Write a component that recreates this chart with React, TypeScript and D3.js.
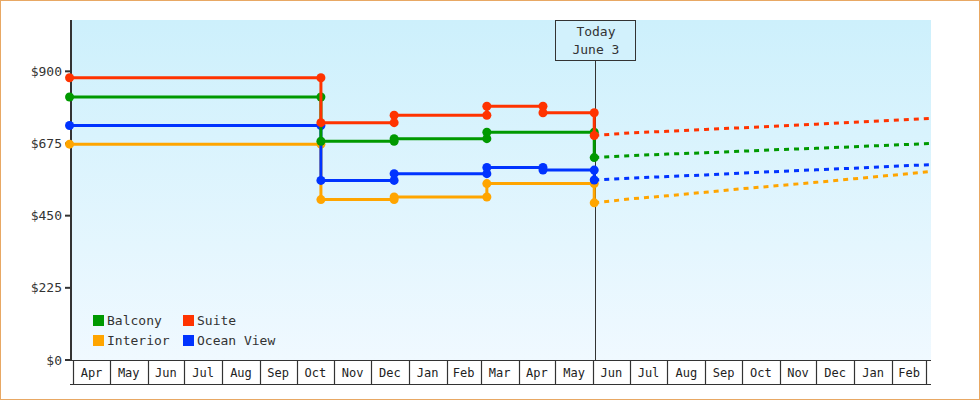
import React from "react";
import * as d3 from "d3";

const W = 980;
const H = 400;

// Step-change dates and prices (historical)
const stepDates = ["2013-03-29", "2013-10-21", "2013-12-20", "2014-03-06", "2014-04-21", "2014-06-02"];
const balconyHist = [820, 682, 690, 710, 710, 631];
const suiteHist = [880, 740, 763, 791, 771, 700];
const interiorHist = [673, 500, 508, 550, 550, 490];
const oceanHist = [731, 560, 581, 600, 592, 561];

// Forecast
const forecastDates = ["2014-06-02", "2014-07-01", "2014-08-01", "2014-09-01", "2014-10-01", "2014-11-01", "2014-12-01", "2015-01-01", "2015-02-01", "2015-03-05"];
const balconyFc = [631, 637, 642, 646, 651, 656, 660, 665, 670, 675];
const suiteFc = [700, 708, 713, 719, 724, 730, 735, 741, 747, 753];
const interiorFc = [490, 502, 512, 523, 534, 544, 554, 565, 576, 588];
const oceanFc = [561, 567, 572, 577, 583, 588, 593, 598, 604, 609];

const seriesNames = ["Balcony", "Suite", "Interior", "Ocean View"];
const seriesColors = ["#009900", "#ff3300", "#ffa500", "#0033ff"];
const yTicks = [0, 225, 450, 675, 900];
const todayDate = "2014-06-03";
const todayLabel = ["Today", "June 3"];

const FONT = "'DejaVu Sans Mono', monospace";

const parse = (s: string) => {
  const [y, m, d] = s.split("-").map(Number);
  return new Date(Date.UTC(y, m - 1, d));
};

export default function App() {
  const left = 72, right = 931, top = 20, bottom = 360;
  const x = d3.scaleUtc().domain([parse("2013-03-31"), parse("2015-03-05")]).range([left, right]);
  const y = d3.scaleLinear().domain([0, 1060]).range([bottom, top]);

  const hist = [balconyHist, suiteHist, interiorHist, oceanHist];
  const fc = [balconyFc, suiteFc, interiorFc, oceanFc];
  const drawOrder = [2, 3, 0, 1];

  const stepLine = d3.line<[Date, number]>().x(d => x(d[0])).y(d => y(d[1])).curve(d3.curveStepAfter);
  const fcLine = d3.line<[Date, number]>().x(d => x(d[0])).y(d => y(d[1]));

  const monthEnd = parse("2015-03-01");
  const months = d3.utcMonth.range(parse("2013-04-01"), monthEnd);
  const fmt = d3.utcFormat("%b");
  const tx = x(parse(todayDate));

  return (
    <svg width={W} height={H} style={{ position: "absolute", left: 0, top: 0, background: "#fff" }}>
      <defs>
        <linearGradient id="bg" x1="0" y1="0" x2="0" y2="1">
          <stop offset="0" stopColor="#cdf0fc" />
          <stop offset="1" stopColor="#f0f9ff" />
        </linearGradient>
      </defs>
      <rect x={0.5} y={0.5} width={W - 1} height={H - 1} fill="#fff" stroke="#e8a864" strokeWidth={1} />
      <rect x={left} y={top} width={right - left} height={bottom - top} fill="url(#bg)" />

      {/* y axis */}
      <line x1={71} x2={71} y1={top} y2={bottom} stroke="#333" strokeWidth={2} />
      {yTicks.map(t => (
        <g key={t}>
          <line x1={65} x2={71} y1={y(t)} y2={y(t)} stroke="#333" strokeWidth={2} />
          <text x={62} y={y(t)} dy="0.35em" textAnchor="end" fontFamily={FONT} fontSize={13} fill="#333">
            {"$" + t}
          </text>
        </g>
      ))}

      {/* x axis month boxes */}
      <line x1={70} x2={right} y1={360.5} y2={360.5} stroke="#333" strokeWidth={1.2} />
      <line x1={70} x2={right} y1={384.5} y2={384.5} stroke="#333" strokeWidth={1.2} />
      {months.map((m, i) => {
        const next = i < months.length - 1 ? months[i + 1] : monthEnd;
        return (
          <g key={i}>
            <line x1={Math.round(x(m)) + 0.5} x2={Math.round(x(m)) + 0.5} y1={360} y2={385} stroke="#333" strokeWidth={1.2} />
            <text x={(x(m) + x(next)) / 2} y={377} textAnchor="middle" fontFamily={FONT} fontSize={12} fill="#222">
              {fmt(m)}
            </text>
          </g>
        );
      })}
      <line x1={Math.round(x(monthEnd)) + 0.5} x2={Math.round(x(monthEnd)) + 0.5} y1={360} y2={385} stroke="#333" strokeWidth={1.2} />

      {/* today marker */}
      <line x1={Math.round(tx) + 0.5} x2={Math.round(tx) + 0.5} y1={60.5} y2={bottom} stroke="#333" strokeWidth={1} />
      <rect x={555.5} y={20.5} width={80} height={40} fill="#d2f1fc" stroke="#333" strokeWidth={1} />
      <text x={tx + 0.5} y={36} textAnchor="middle" fontFamily={FONT} fontSize={13} fill="#333">{todayLabel[0]}</text>
      <text x={tx + 0.5} y={54} textAnchor="middle" fontFamily={FONT} fontSize={13} fill="#333">{todayLabel[1]}</text>

      {/* forecasts */}
      {drawOrder.map(si => {
        const pts: [Date, number][] = forecastDates.map((d, i) => [parse(d), fc[si][i]]);
        return (
          <path key={"fc" + si} d={fcLine(pts) || ""} fill="none" stroke={seriesColors[si]} strokeWidth={3} strokeDasharray="5,5" />
        );
      })}

      {/* history step lines */}
      {drawOrder.map(si => {
        const pts: [Date, number][] = stepDates.map((d, i) => [parse(d), hist[si][i]]);
        const marks: [Date, number][] = [];
        pts.forEach((p, i) => {
          if (i === 0) marks.push(p);
          else if (hist[si][i] !== hist[si][i - 1]) {
            marks.push([p[0], hist[si][i - 1]]);
            marks.push(p);
          }
        });
        return (
          <g key={"h" + si}>
            <path d={stepLine(pts) || ""} fill="none" stroke={seriesColors[si]} strokeWidth={3} />
            {marks.map((m, i) => (
              <circle key={i} cx={x(m[0])} cy={y(m[1])} r={4.5} fill={seriesColors[si]} />
            ))}
          </g>
        );
      })}

      {/* legend */}
      {seriesNames.map((n, i) => {
        const lx = i % 2 === 0 ? 93 : 183;
        const ly = i < 2 ? 315 : 335;
        return (
          <g key={n}>
            <rect x={lx} y={ly} width={11} height={11} fill={seriesColors[i]} />
            <text x={lx + 14} y={ly + 10} fontFamily={FONT} fontSize={13} fill="#333">{n}</text>
          </g>
        );
      })}
    </svg>
  );
}
